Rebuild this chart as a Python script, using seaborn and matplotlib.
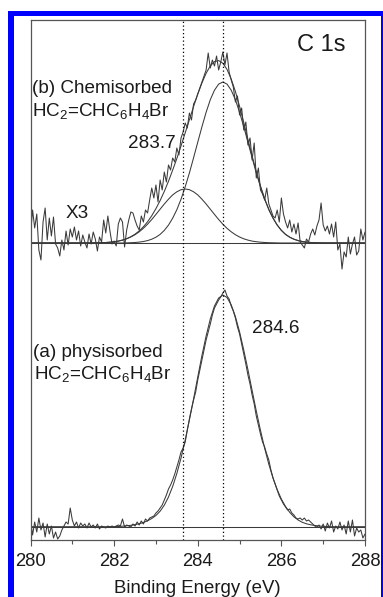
import numpy as np
import pandas as pd
import seaborn as sns
import matplotlib
matplotlib.use("Agg")
import matplotlib.pyplot as plt
from matplotlib.patches import Rectangle
from matplotlib.ticker import MultipleLocator

# ---------------- data ----------------
# raw spectra, 0.05 eV step from 280 to 288 eV (arbitrary intensity units)
data_a = [20, 5, 18, 8, 22, 10, 17, 3, 16, 6,
          14, 2, 8, 1, 4, 10, 14, 18, 16, 32,
          20, 14, 18, 12, 17, 14, 16, 12, 17, 13,
          15, 12, 16, 11, 14, 13, 12, 14, 13, 14,
          13, 14, 15, 14, 21, 13, 15, 14, 13, 16,
          14, 18, 15, 19, 16, 21, 19, 22, 23, 24,
          27, 29, 32, 35, 40, 45, 51, 55, 60, 66,
          73, 80, 88, 92, 98, 110, 121, 131, 140, 148,
          160, 170, 180, 190, 200, 208, 216, 225, 232, 236,
          240, 243, 247, 250, 244, 241, 234, 229, 222, 213,
          206, 196, 186, 176, 165, 156, 145, 136, 124, 115,
          106, 98, 93, 86, 80, 70, 62, 56, 50, 44,
          40, 36, 33, 30, 31, 27, 25, 22, 21, 22,
          20, 22, 19, 20, 18, 16, 14, 13, 15, 11,
          16, 9, 17, 12, 19, 8, 14, 11, 18, 10,
          15, 6, 19, 8, 20, 4, 12, 8, 10, 2,
          6]
data_b = [305, 330, 312, 326, 290, 280, 318, 332, 300, 322,
          304, 323, 296, 292, 284, 300, 290, 309, 295, 311,
          303, 313, 300, 309, 294, 305, 298, 292, 306, 296,
          308, 301, 289, 303, 298, 320, 307, 324, 309, 296,
          299, 294, 316, 322, 318, 293, 310, 320, 328, 327,
          320, 314, 310, 324, 318, 330, 327, 340, 352, 342,
          355, 338, 360, 350, 368, 358, 375, 370, 382, 378,
          392, 385, 402, 408, 417, 412, 427, 420, 436, 440,
          446, 452, 458, 464, 470, 487, 472, 480, 474, 484,
          470, 478, 488, 475, 487, 468, 460, 453, 438, 444,
          425, 432, 410, 418, 395, 402, 380, 397, 362, 372,
          350, 346, 340, 352, 336, 330, 324, 322, 330, 318,
          342, 326, 318, 312, 320, 308, 316, 306, 317, 298,
          295, 292, 301, 298, 306, 311, 305, 314, 320, 337,
          315, 309, 314, 306, 316, 303, 318, 290, 296, 271,
          288, 283, 303, 286, 296, 303, 285, 289, 311, 300,
          308]

# fitted curves, 0.1 eV step from 280 to 288 eV
fit_a = [13.3] * 20 + [13.3, 13.5, 13.8, 14.2, 14.7, 15.4, 16.2, 17.5, 19.2, 21.5,
                       24.5, 28.8, 34.8, 43, 53.5, 66.5, 82, 100, 120, 141,
                       163, 184.5, 204, 221, 234, 242, 245, 242.5, 235.2, 223.5,
                       208.2, 190, 170.3, 149.6, 129, 109.7, 91.7, 75.7, 62, 50.4,
                       40.9, 33.4, 27.6, 23.2, 20, 17.7, 16.2, 15.2, 14.5, 14.0,
                       13.7, 13.5, 13.3] + [13.3] * 8
comp1_b = [297.0] * 23 + [297.1, 297.3, 297.5, 297.9, 298.5, 299.4, 300.8, 302.8, 305.6, 309.6,
                          314.9, 321.8, 330.3, 340.8, 353.2, 367.0, 382.2, 397.8, 413.2, 427.7,
                          440.3, 449.8, 455.9, 458.0, 455.9, 449.8, 440.3, 427.7, 413.2, 397.8,
                          382.2, 367.0, 353.2, 340.8, 330.3, 321.8, 314.9, 309.6, 305.6, 302.8,
                          300.8, 299.4, 298.5, 297.9, 297.5, 297.3, 297.1] + [297.0] * 11
comp2_b = [297.0] * 15 + [297.1, 297.2, 297.3, 297.5, 297.8, 298.3, 298.9, 299.9, 301.2, 303.0,
                          305.3, 308.2, 311.7, 315.8, 320.5, 325.6, 330.8, 336.0, 340.8, 345.1,
                          348.2, 350.3, 351.0, 350.3, 348.2, 345.1, 340.8, 336.0, 330.8, 325.6,
                          320.5, 315.8, 311.7, 308.2, 305.3, 303.0, 301.2, 299.9, 298.9, 298.3,
                          297.8, 297.5, 297.3, 297.2, 297.1] + [297.0] * 21
envelope_b = [297.0] * 15 + [297.1, 297.2, 297.3, 297.5, 297.8, 298.3, 298.9, 299.9, 301.3, 303.3,
                             305.8, 309.1, 313.2, 318.2, 324.3, 331.4, 339.4, 348.6, 358.7, 369.9,
                             381.5, 394.1, 407.2, 420.3, 433.4, 445.9, 457.0, 466.7, 474.1, 478.4,
                             479.4, 476.8, 470.6, 461.0, 448.6, 433.7, 417.4, 400.7, 384.1, 368.3,
                             354.0, 341.3, 330.6, 322.0, 315.0, 309.6, 305.6, 302.8, 300.8, 299.4,
                             298.5, 297.9, 297.5, 297.3, 297.1] + [297.0] * 11

baseline_a = 13.3
baseline_b = 297.0
peak_positions = [283.65, 284.6]
xticks = [280, 282, 284, 286, 288]

assert len(data_a) == 161 and len(data_b) == 161
assert len(fit_a) == 81 and len(comp1_b) == 81 and len(comp2_b) == 81 and len(envelope_b) == 81

E_data = np.linspace(280, 288, len(data_a))
E_fit = np.linspace(280, 288, len(fit_a))

df_data = pd.DataFrame({"E": E_data, "a": data_a, "b": data_b})
df_fit = pd.DataFrame({"E": E_fit, "fa": fit_a, "c1": comp1_b, "c2": comp2_b, "env": envelope_b})

# ---------------- style ----------------
sns.set_style("white")
plt.rcParams["font.family"] = ["Liberation Sans", "DejaVu Sans"]
plt.rcParams["mathtext.fontset"] = "custom"
plt.rcParams["mathtext.rm"] = "Liberation Sans"
plt.rcParams["mathtext.it"] = "Liberation Sans:italic"
plt.rcParams["mathtext.bf"] = "Liberation Sans:bold"

W, H = 383, 597
fig = plt.figure(figsize=(W / 100, H / 100), dpi=100)
ax = fig.add_axes([30.5 / W, (H - 540) / H, (365 - 30.5) / W, (540 - 20) / H])

lc = "#3a3a3a"
lw = 0.75
kw = dict(ax=ax, color=lc, linewidth=lw, legend=False, sort=False, estimator=None)
sns.lineplot(data=df_data, x="E", y="a", **kw)
sns.lineplot(data=df_data, x="E", y="b", **kw)
sns.lineplot(data=df_fit, x="E", y="fa", **kw)
sns.lineplot(data=df_fit, x="E", y="c1", **kw)
sns.lineplot(data=df_fit, x="E", y="c2", **kw)
sns.lineplot(data=df_fit, x="E", y="env", **kw)
ax.axhline(baseline_a, color=lc, linewidth=lw)
ax.axhline(baseline_b, color=lc, linewidth=lw)
for p in peak_positions:
    ax.axvline(p, color="black", linewidth=0.9, linestyle=(0, (1, 2)))

ax.set_xlim(280, 288)
ax.set_ylim(0, 520)
ax.set_yticks([])
ax.set_xticks(xticks)
ax.set_xticklabels([str(t) for t in xticks], fontsize=13.3, color="#1a1a1a")
ax.xaxis.set_minor_locator(MultipleLocator(1))
ax.tick_params(axis="x", which="major", direction="out", length=4, width=0.8,
               color="#555555", pad=5, bottom=True, top=False)
ax.tick_params(axis="x", which="minor", direction="out", length=3, width=0.8,
               color="#555555", bottom=True, top=False)
ax.set_xlabel("Binding Energy (eV)", fontsize=13.4, color="#1a1a1a", labelpad=7.5)
ax.set_ylabel("")
for s in ax.spines.values():
    s.set_color("#555555")
    s.set_linewidth(0.9)

tc = "#1a1a1a"
fs = 13.6
ax.text(286.38, 489, "C 1s", fontsize=17, color=tc, va="baseline", ha="left")
ax.text(280.04, 447, "(b) Chemisorbed", fontsize=fs, color=tc, va="baseline", ha="left")
ax.text(280.04, 424, "HC$_2$=CHC$_6$H$_4$Br", fontsize=fs, color=tc, va="baseline", ha="left")
ax.text(282.33, 392, "283.7", fontsize=fs, color=tc, va="baseline", ha="left")
ax.text(280.85, 322, "X3", fontsize=fs, color=tc, va="baseline", ha="left")
ax.text(285.29, 207, "284.6", fontsize=fs, color=tc, va="baseline", ha="left")
ax.text(280.07, 183, "(a) physisorbed", fontsize=fs, color=tc, va="baseline", ha="left")
ax.text(280.09, 161, "HC$_2$=CHC$_6$H$_4$Br", fontsize=fs, color=tc, va="baseline", ha="left")

# blue frame around the figure
blue = "#0000ff"
def px_rect(x0, y0, x1, y1):
    fig.patches.append(Rectangle((x0 / W, 1 - y1 / H), (x1 - x0) / W, (y1 - y0) / H,
                                 transform=fig.transFigure, facecolor=blue,
                                 edgecolor="none", zorder=10))
px_rect(8, 11, 13.5, H)
px_rect(8, 11, W, 16)
px_rect(380.5, 11, W, H)

fig.savefig("out.png", dpi=100)
